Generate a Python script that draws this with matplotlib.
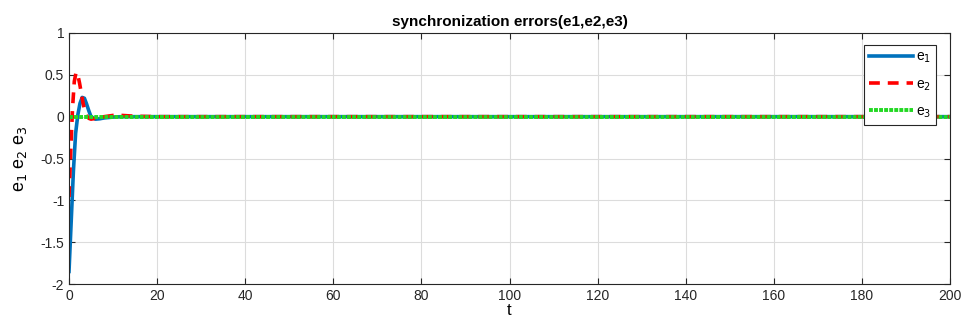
import numpy as np
import matplotlib
matplotlib.use("Agg")
import matplotlib.pyplot as plt

plt.rcParams['font.family'] = ['Liberation Sans', 'DejaVu Sans']
plt.rcParams['axes.unicode_minus'] = False

# errores de sincronizacion: transitorio inicial y luego cero hasta t=200
t1 = [0, 0.5, 1, 1.5, 2, 2.5, 3, 3.5, 4, 4.5, 5, 6, 7, 8, 10, 12, 15, 20, 200]
e1 = [-1.85, -1.25, -0.65, -0.2, 0.02, 0.16, 0.23, 0.22, 0.15, 0.07, 0.0, -0.03, -0.025, -0.015, -0.005, 0.0, 0.0, 0.0, 0.0]

t2 = [0, 0.4, 0.8, 1.2, 1.6, 2.0, 2.4, 2.8, 3.2, 3.6, 4.0, 4.5, 5, 6, 7, 8, 10, 12, 15, 20, 200]
e2 = [-0.96, -0.4, 0.1, 0.42, 0.53, 0.5, 0.4, 0.28, 0.16, 0.07, 0.01, -0.02, -0.03, -0.02, -0.01, 0.0, 0.015, 0.015, 0.005, 0.0, 0.0]

t3 = [0, 200]
e3 = [0.0, 0.0]

xticks = [0, 20, 40, 60, 80, 100, 120, 140, 160, 180, 200]
yticks = [-2, -1.5, -1, -0.5, 0, 0.5, 1]
ytick_labels = ['-2', '-1.5', '-1', '-0.5', '0', '0.5', '1']

fig = plt.figure(figsize=(9.65, 3.27), dpi=100)
ax = fig.add_axes([69/965, 43/327, 881/965, 251/327])

ax.plot(t1, e1, color='#0072BD', lw=2.6, label='e$_1$')
ax.plot(t2, e2, color='#FF0000', lw=2.6, ls=(0, (3, 2.2)), label='e$_2$')
ax.plot(t3, e3, color='#22D822', lw=2.8, ls=(0, (1.0, 0.3)), label='e$_3$')

ax.set_xlim(0, 200)
ax.set_ylim(-2, 1)
ax.set_xticks(xticks)
ax.set_yticks(yticks)
ax.set_yticklabels(ytick_labels)
ax.grid(True, color='#dcdcdc', lw=0.8)
ax.set_axisbelow(True)
ax.tick_params(direction='in', length=4, top=True, right=True, labelsize=10, colors='#262626')
for s in ax.spines.values():
    s.set_color('#262626')
    s.set_linewidth(0.8)

ax.set_title('synchronization errors(e1,e2,e3)', fontsize=11, fontweight='bold', pad=5)
ax.set_xlabel('t', fontsize=12, labelpad=0)
ax.set_ylabel('e$_1$ e$_2$ e$_3$', fontsize=13, labelpad=8)

leg = ax.legend(loc='upper right', bbox_to_anchor=(0.984, 0.952), fontsize=10,
                handlelength=3.2, handletextpad=0.2, labelspacing=0.85,
                fancybox=False, framealpha=1, borderpad=0.35, borderaxespad=0)
leg.get_frame().set_edgecolor('#262626')
leg.get_frame().set_linewidth(0.8)

fig.savefig('out.png', dpi=100)
